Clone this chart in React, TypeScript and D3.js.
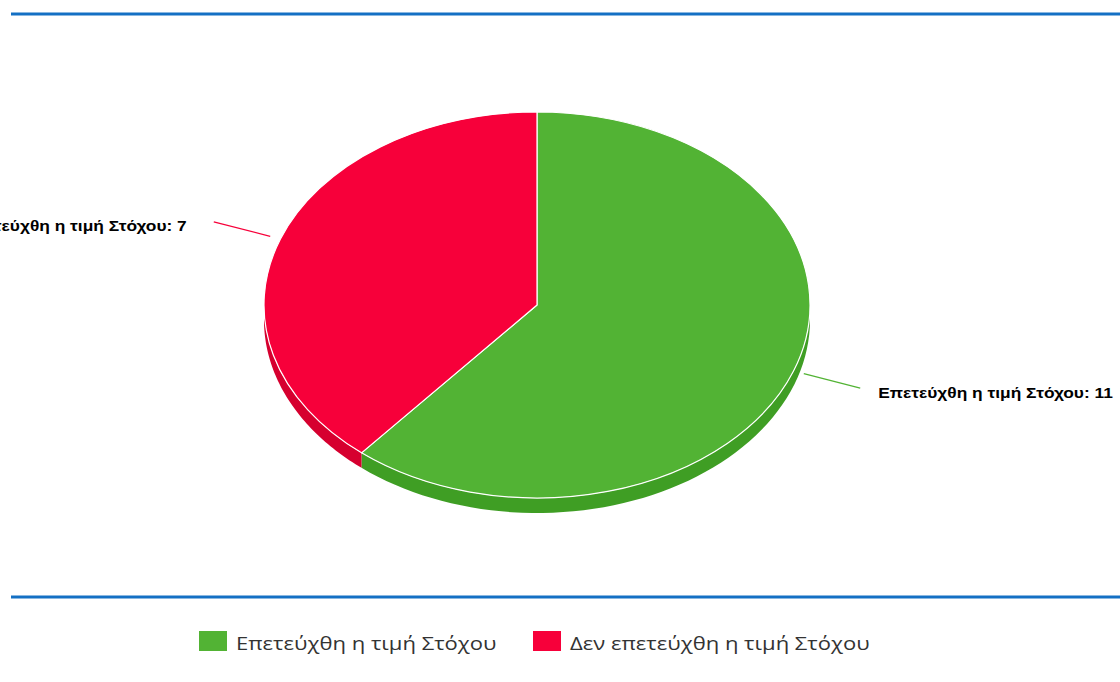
import React from "react";
import * as d3 from "d3";

const categories = ["Επετεύχθη η τιμή Στόχου", "Δεν επετεύχθη η τιμή Στόχου"];
const values = [11, 7];
const topColors = ["#52b334", "#f7003a"];
const sideColors = ["#3f9e24", "#d6002f"];

const W = 1120, H = 682;
const cx = 537, cy = 305, rx = 273, ry = 193, depth = 15;

function pt(a: number, k = 1, dy = 0): [number, number] {
  return [cx + Math.sin(a) * rx * k, cy - Math.cos(a) * ry * k + dy];
}

function sidePath(a0: number, a1: number): string | null {
  const lo = Math.max(a0, Math.PI / 2);
  const hi = Math.min(a1, (3 * Math.PI) / 2);
  if (hi <= lo) return null;
  const n = 60;
  const p = d3.path();
  for (let i = 0; i <= n; i++) {
    const a = lo + ((hi - lo) * i) / n;
    const [x, y] = pt(a);
    if (i === 0) p.moveTo(x, y); else p.lineTo(x, y);
  }
  for (let i = n; i >= 0; i--) {
    const a = lo + ((hi - lo) * i) / n;
    const [x, y] = pt(a, 1, depth);
    p.lineTo(x, y);
  }
  p.closePath();
  return p.toString();
}

export default function App() {
  const arcs = d3.pie<number>().sort(null)(values);
  const arcGen = d3.arc<d3.PieArcDatum<number>>().innerRadius(0).outerRadius(rx);
  return (
    <svg width={W} height={H} style={{ position: "absolute", left: 0, top: 0, background: "#fff" }}>
      <line x1={11} x2={W} y1={14} y2={14} stroke="#1470c4" strokeWidth={3} />
      <line x1={11} x2={W} y1={597} y2={597} stroke="#1470c4" strokeWidth={3} />
      {arcs.map((a, i) => {
        const d = sidePath(a.startAngle, a.endAngle);
        return d ? <path key={"s" + i} d={d} fill={sideColors[i]} /> : null;
      })}
      <g transform={`translate(${cx},${cy}) scale(1,${ry / rx})`}>
        {arcs.map((a, i) => (
          <path key={"t" + i} d={arcGen(a) || ""} fill={topColors[i]} stroke="#fff" strokeWidth={1.2}
            vectorEffect="non-scaling-stroke" strokeLinejoin="round" />
        ))}
      </g>
      {arcs.map((a, i) => {
        const m = (a.startAngle + a.endAngle) / 2;
        const [x0, y0] = pt(m, 1.04);
        const [x1, y1] = pt(m, 1.26);
        const right = Math.sin(m) > 0;
        const tx = right ? x1 + 18 : x1 - 27;
        return (
          <g key={"l" + i}>
            <path d={`M${x0},${y0}L${x1},${y1}`} stroke={topColors[i]} strokeWidth={1.2} fill="none" />
            <g transform={`translate(${tx},${y1 + 9.5}) scale(1.24,1)`}>
              <text x={0} y={0} textAnchor={right ? "start" : "end"}
                fontFamily="Liberation Sans, Arial, sans-serif" fontWeight="bold" fontSize={14} fill="#000">
                {categories[i]}: {values[i]}
              </text>
            </g>
          </g>
        );
      })}
      {(() => {
        const xs = [199, 533];
        return categories.map((c, i) => (
          <g key={"lg" + i}>
            <rect x={xs[i]} y={631} width={28} height={20} fill={topColors[i]} />
            <g transform={`translate(${xs[i] + 37},649.5) scale(1.16,1)`}>
              <text x={0} y={0} fontFamily="Open Sans, sans-serif" fontSize={19} fill="#333">{c}</text>
            </g>
          </g>
        ));
      })()}
    </svg>
  );
}
